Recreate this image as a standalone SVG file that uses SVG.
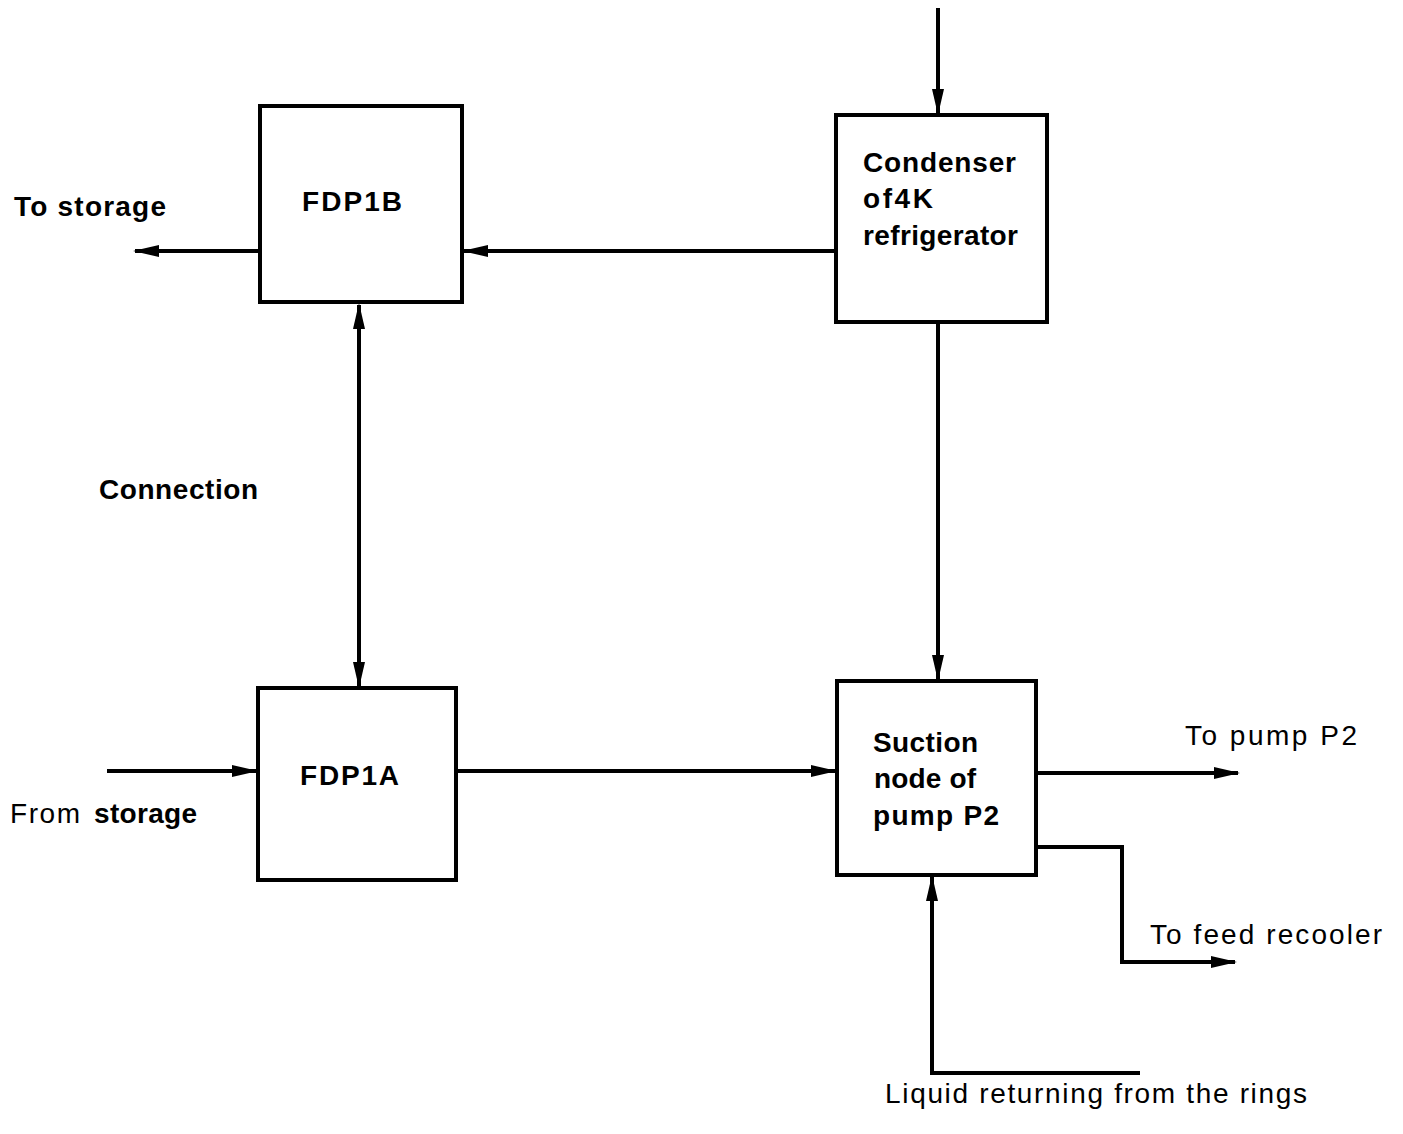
<svg xmlns="http://www.w3.org/2000/svg" width="1403" height="1134" viewBox="0 0 1403 1134">
<defs>
<style>
.box{fill:#fff;stroke:#000;stroke-width:4}
.ln{fill:none;stroke:#000;stroke-width:4}
.b{font-family:"Liberation Sans",Arial,sans-serif;font-weight:bold;font-size:28px;fill:#000}
.r{font-family:"Liberation Sans",Arial,sans-serif;font-size:28px;fill:#000}
</style>
<marker id="ah" markerUnits="userSpaceOnUse" markerWidth="26" markerHeight="12" refX="24" refY="6" orient="auto-start-reverse" viewBox="0 0 26 12">
<path d="M0,0 L26,6 L0,12 z" fill="#000"/>
</marker>
</defs>
<rect width="1403" height="1134" fill="#fff"/>
<g id="connectors">
<line class="ln" x1="938" y1="8" x2="938" y2="113" marker-end="url(#ah)"/>
<line class="ln" x1="260" y1="251" x2="135" y2="251" marker-end="url(#ah)"/>
<line class="ln" x1="836" y1="251" x2="464" y2="251" marker-end="url(#ah)"/>
<line class="ln" x1="359" y1="305" x2="359" y2="686" marker-start="url(#ah)" marker-end="url(#ah)"/>
<line class="ln" x1="938" y1="322" x2="938" y2="679" marker-end="url(#ah)"/>
<line class="ln" x1="107" y1="771" x2="256" y2="771" marker-end="url(#ah)"/>
<line class="ln" x1="456" y1="771" x2="835" y2="771" marker-end="url(#ah)"/>
<line class="ln" x1="1036" y1="773" x2="1238" y2="773" marker-end="url(#ah)"/>
<polyline class="ln" points="1036,847 1122,847 1122,962 1235,962" marker-end="url(#ah)"/>
<polyline class="ln" points="1140,1073 932,1073 932,877" marker-end="url(#ah)"/>
</g>
<g id="fdp1b">
<rect class="box" x="260" y="106" width="202" height="196"/>
<text class="b" x="302" y="211" textLength="100">FDP1B</text>
</g>
<g id="condenser">
<rect class="box" x="836" y="115" width="211" height="207"/>
<text class="b" x="863" y="172" textLength="153">Condenser</text>
<text class="b" x="863" y="208" textLength="70">of4K</text>
<text class="b" x="863" y="245" textLength="155">refrigerator</text>
</g>
<g id="fdp1a">
<rect class="box" x="258" y="688" width="198" height="192"/>
<text class="b" x="300" y="785" textLength="99">FDP1A</text>
</g>
<g id="suction">
<rect class="box" x="837" y="681" width="199" height="194"/>
<text class="b" x="873" y="752" textLength="105">Suction</text>
<text class="b" x="874" y="788" textLength="102">node of</text>
<text class="b" x="873" y="825" textLength="126">pump P2</text>
</g>
<g id="labels">
<text class="b" x="14" y="216" textLength="152">To storage</text>
<text class="b" x="99" y="499" textLength="159">Connection</text>
<text class="r" x="10" y="823" textLength="70">From</text>
<text class="b" x="94" y="823" textLength="103">storage</text>
<text class="r" x="1185" y="745" textLength="172">To pump P2</text>
<text class="r" x="1150" y="944" textLength="232">To feed recooler</text>
<text class="r" x="885" y="1103" textLength="422">Liquid returning from the rings</text>
</g>
</svg>
